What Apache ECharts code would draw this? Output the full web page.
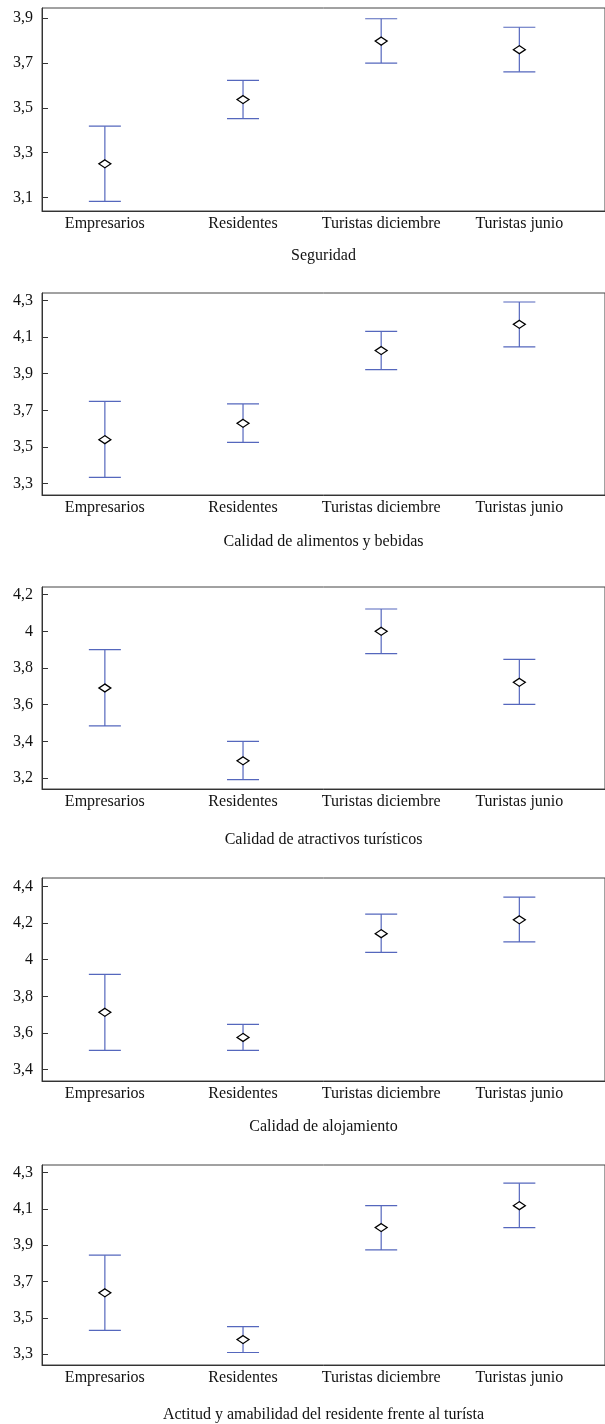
<!DOCTYPE html>
<html>
<head>
<meta charset="utf-8">
<script src="https://cdn.jsdelivr.net/npm/echarts@6/dist/echarts.min.js"></script>
<style>
html,body{margin:0;padding:0;background:#fff;}
#chart{width:605px;height:1424px;}
</style>
</head>
<body>
<div id="chart"></div>
<script>
// ---- data ----
const categories = ['Empresarios', 'Residentes', 'Turistas diciembre', 'Turistas junio'];
const titles = ['Seguridad', 'Calidad de alimentos y bebidas', 'Calidad de atractivos turísticos', 'Calidad de alojamiento', 'Actitud y amabilidad del residente frente al turísta'];

const seguridadMean = [3.25, 3.537, 3.798, 3.76];
const seguridadLow  = [3.082, 3.452, 3.70, 3.661];
const seguridadHigh = [3.418, 3.623, 3.898, 3.86];

const alimentosMean = [3.54, 3.629, 4.026, 4.169];
const alimentosLow  = [3.334, 3.525, 3.922, 4.046];
const alimentosHigh = [3.749, 3.735, 4.131, 4.291];

const atractivosMean = [3.691, 3.294, 4.0, 3.722];
const atractivosLow  = [3.484, 3.191, 3.878, 3.602];
const atractivosHigh = [3.9, 3.4, 4.122, 3.847];

const alojamientoMean = [3.713, 3.576, 4.142, 4.218];
const alojamientoLow  = [3.505, 3.505, 4.04, 4.097];
const alojamientoHigh = [3.92, 3.647, 4.249, 4.342];

const actitudMean = [3.638, 3.38, 3.997, 4.118];
const actitudLow  = [3.431, 3.309, 3.874, 3.997];
const actitudHigh = [3.845, 3.451, 4.118, 4.242];

const ticks1 = [3.1, 3.3, 3.5, 3.7, 3.9];
const ticks2 = [3.3, 3.5, 3.7, 3.9, 4.1, 4.3];
const ticks3 = [3.2, 3.4, 3.6, 3.8, 4.0, 4.2];
const ticks4 = [3.4, 3.6, 3.8, 4.0, 4.2, 4.4];
const ticks5 = [3.3, 3.5, 3.7, 3.9, 4.1, 4.3];

// ---- layout ----
const panels = [
  {mean: seguridadMean, low: seguridadLow, high: seguridadHigh, ticks: ticks1, top: 8, height: 203, min: 3.039, max: 3.946, nameGap: 37},
  {mean: alimentosMean, low: alimentosLow, high: alimentosHigh, ticks: ticks2, top: 293, height: 202, min: 3.238, max: 4.34, nameGap: 39},
  {mean: atractivosMean, low: atractivosLow, high: atractivosHigh, ticks: ticks3, top: 587, height: 202, min: 3.14, max: 4.242, nameGap: 43},
  {mean: alojamientoMean, low: alojamientoLow, high: alojamientoHigh, ticks: ticks4, top: 878, height: 203, min: 3.338, max: 4.446, nameGap: 38},
  {mean: actitudMean, low: actitudLow, high: actitudHigh, ticks: ticks5, top: 1165, height: 202, min: 3.24, max: 4.342, nameGap: 42}
];

const FONT = 'Liberation Serif';
const BAR_COLOR = '#5567bd';
const fmt = v => String(+v.toFixed(2)).replace('.', ',');
const catIdx = categories.map((c, i) => i);

const grid = [], xAxis = [], yAxis = [], series = [];
panels.forEach((p, k) => {
  grid.push({left: 42, width: 568, top: p.top, height: p.height, show: true, borderColor: '#444', borderWidth: 1, backgroundColor: 'transparent'});
  xAxis.push({
    type: 'value', gridIndex: k, min: -0.455, max: 3.62,
    name: titles[k], nameLocation: 'middle', nameGap: p.nameGap,
    nameTextStyle: {fontFamily: FONT, fontSize: 16, color: '#111'},
    axisLine: {show: true, onZero: false, lineStyle: {color: '#333', width: 1}},
    axisTick: {show: false},
    splitLine: {show: false},
    axisLabel: {customValues: catIdx, formatter: v => categories[Math.round(v)] || '', fontFamily: FONT, fontSize: 16, color: '#111', margin: 5}
  });
  yAxis.push({
    type: 'value', gridIndex: k, min: p.min, max: p.max,
    axisLine: {show: true, onZero: false, lineStyle: {color: '#333', width: 1}},
    axisTick: {show: true, inside: true, length: 6, customValues: p.ticks, lineStyle: {color: '#333'}},
    axisLabel: {customValues: p.ticks, formatter: fmt, fontFamily: FONT, fontSize: 16, color: '#111', margin: 9},
    splitLine: {show: false}
  });
  series.push({
    type: 'custom', xAxisIndex: k, yAxisIndex: k,
    data: catIdx.map(i => [i, p.low[i], p.high[i]]),
    renderItem: function (params, api) {
      const x = api.value(0);
      const lo = api.coord([x, api.value(1)]);
      const hi = api.coord([x, api.value(2)]);
      const hw = 16;
      const st = {stroke: BAR_COLOR, lineWidth: 1.2};
      return {type: 'group', children: [
        {type: 'line', shape: {x1: hi[0], y1: hi[1], x2: lo[0], y2: lo[1]}, style: st},
        {type: 'line', shape: {x1: hi[0] - hw, y1: hi[1], x2: hi[0] + hw, y2: hi[1]}, style: st},
        {type: 'line', shape: {x1: lo[0] - hw, y1: lo[1], x2: lo[0] + hw, y2: lo[1]}, style: st}
      ]};
    },
    silent: true, z: 2
  });
  series.push({
    type: 'scatter', xAxisIndex: k, yAxisIndex: k,
    data: catIdx.map(i => [i, p.mean[i]]),
    symbol: 'diamond', symbolSize: [12, 8],
    itemStyle: {color: '#fff', borderColor: '#000', borderWidth: 1.3, opacity: 1},
    silent: true, z: 3
  });
});

const chart = echarts.init(document.getElementById('chart'), null, {renderer: 'canvas'});
chart.setOption({animation: false, backgroundColor: '#fff', grid, xAxis, yAxis, series});
</script>
</body>
</html>
